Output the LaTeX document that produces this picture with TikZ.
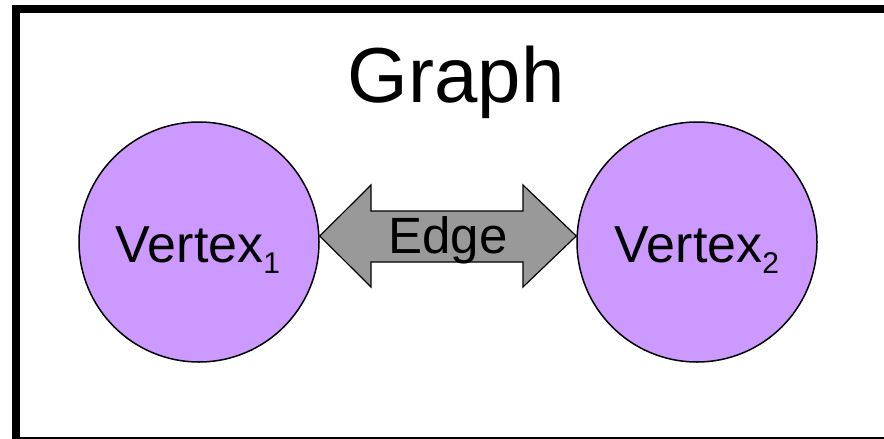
\documentclass[tikz,border=0pt]{standalone}
\usepackage{fontspec}
\setmainfont{Liberation Sans}
\definecolor{vfill}{HTML}{CC99FF}
\definecolor{efill}{HTML}{999999}
\begin{document}
\begin{tikzpicture}[x=1pt,y=1pt,
  vertex/.style={circle,draw=black,line width=1.5pt,fill=vfill,minimum size=240pt,inner sep=0pt},
  vlabel/.style={font=\fontsize{52}{52}\selectfont,anchor=base,inner sep=0pt},
  edgearrow/.style={draw=black,line width=1.2pt,fill=efill,line join=miter},
  frame/.style={draw=black,line width=8pt}]
\useasboundingbox (0,0) rectangle (884,-439);
\draw[frame] (16,-9) rectangle (892,-441);
\node[font=\fontsize{78}{78}\selectfont,anchor=base,inner sep=0pt] (title) at (456,-102) {Graph};
\node[vertex] (v1) at (199,-242) {};
\node[vertex] (v2) at (697,-242) {};
\node[vlabel] (t1) at (198,-262) {Vertex\raisebox{-11pt}{\fontsize{30}{30}\selectfont 1}};
\node[vlabel] (t2) at (697,-262) {Vertex\raisebox{-11pt}{\fontsize{30}{30}\selectfont 2}};
\coordinate (ltip) at (v1.east |- 0,-236);
\coordinate (rtip) at (v2.west |- 0,-236);
\draw[edgearrow] (ltip) -- (371,-185) -- (371,-211) -- (523,-211) -- (523,-185)
  -- (rtip) -- (523,-287) -- (523,-262) -- (371,-262) -- (371,-287) -- cycle;
\node[font=\fontsize{51}{51}\selectfont,anchor=base,inner sep=0pt] (elabel) at (448,-253) {Edge};
\end{tikzpicture}
\end{document}
